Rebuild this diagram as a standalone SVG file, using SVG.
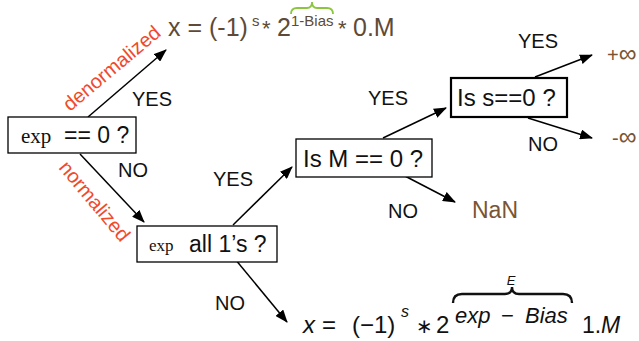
<svg xmlns="http://www.w3.org/2000/svg" width="639" height="341" viewBox="0 0 639 341">
<defs>
<marker id="ah" viewBox="0 0 13 10" refX="12" refY="5" markerWidth="13" markerHeight="10" markerUnits="userSpaceOnUse" orient="auto">
<path d="M0,0 L13,5 L0,10 Z" fill="#000"/>
</marker>
</defs>
<style>
.box{fill:#fff;stroke:#000;stroke-width:1.3}
.thick{stroke-width:2.2}
.sans{font-family:"Liberation Sans",Arial,sans-serif;fill:#111}
.serif{font-family:"Liberation Serif","Times New Roman",serif;fill:#111}
.lbl{font-family:"Liberation Sans",Arial,sans-serif;font-size:20px;fill:#111}
.red{font-family:"Liberation Sans",Arial,sans-serif;font-size:20px;fill:#f04a2a}
.brown{font-family:"Liberation Sans",Arial,sans-serif;fill:#5e4a36}
.res{font-family:"Liberation Sans",Arial,sans-serif;fill:#7a5433}
.math{font-family:"Liberation Sans","DejaVu Sans",sans-serif;fill:#111}
.it{font-style:italic}
.conn line{stroke:#000;stroke-width:1.5;marker-end:url(#ah)}
</style>
<rect width="639" height="341" fill="#fff"/>

<g id="connectors" class="conn">
<line x1="88" y1="117" x2="166" y2="50"/>
<line x1="80" y1="154" x2="144" y2="222"/>
<line x1="233" y1="225" x2="292" y2="167"/>
<line x1="383" y1="138" x2="446" y2="108"/>
<line x1="535" y1="77" x2="592" y2="55"/>
<line x1="528" y1="118" x2="592" y2="138"/>
<line x1="403" y1="175" x2="455" y2="202"/>
<line x1="235" y1="259" x2="287" y2="322"/>
</g>

<g id="edge-labels">
<text class="lbl" x="132" y="106">YES</text>
<text class="lbl" x="118" y="177">NO</text>
<text class="lbl" x="213" y="186">YES</text>
<text class="lbl" x="368" y="105">YES</text>
<text class="lbl" x="518" y="48">YES</text>
<text class="lbl" x="528" y="151">NO</text>
<text class="lbl" x="388" y="218">NO</text>
<text class="lbl" x="215" y="310">NO</text>
<text class="red" transform="translate(70,112) rotate(-40)">denormalized</text>
<text class="red" transform="translate(58,168) rotate(50)">normalized</text>
</g>

<g id="node-exp-zero">
<rect class="box" x="8" y="117" width="128" height="36"/>
<text class="serif" x="21" y="143" font-size="21">exp</text>
<text class="sans" x="64" y="143" font-size="23">== 0 ?</text>
</g>

<g id="node-exp-ones">
<rect class="box" x="137" y="226" width="140" height="36"/>
<text class="serif" x="149" y="251" font-size="17">exp</text>
<text class="sans" x="189" y="252" font-size="23">all 1’s ?</text>
</g>

<g id="node-m-zero">
<rect class="box" x="296" y="139" width="136" height="38"/>
<text class="sans" x="303" y="167" font-size="24">Is M == 0 ?</text>
</g>

<g id="node-s-zero">
<rect class="box thick" x="451" y="78" width="116" height="39"/>
<text class="sans" x="457" y="106" font-size="24">Is s==0 ?</text>
</g>

<g id="result-denorm">
<text class="brown" x="168" y="36" font-size="25">x = (-1)</text>
<text class="brown" x="252" y="26" font-size="15">s</text>
<text class="brown" x="262" y="36" font-size="22">*</text>
<text class="brown" x="277" y="36" font-size="25">2</text>
<text class="brown" x="291" y="26" font-size="15">1-Bias</text>
<text class="brown" x="338" y="36" font-size="22">*</text>
<text class="brown" x="353" y="36" font-size="25">0.M</text>
<path d="M291,14 Q291,8 297,8 L307,8 Q312,8 312,2 Q312,8 317,8 L327,8 Q333,8 333,14" fill="none" stroke="#8cc63f" stroke-width="1.8"/>
</g>

<g id="result-nan">
<text class="res" x="472" y="218" font-size="23">NaN</text>
</g>
<g id="result-pinf">
<text class="res" x="607" y="62" font-size="20">+<tspan font-size="25">∞</tspan></text>
</g>
<g id="result-ninf">
<text class="res" x="612" y="145" font-size="20">-<tspan font-size="25">∞</tspan></text>
</g>

<g id="result-norm">
<text class="math it" x="303" y="333" font-size="24">x</text>
<text class="math" x="322" y="333" font-size="24">=</text>
<text class="math" x="352" y="333" font-size="24">(−1)</text>
<text class="math it" x="401" y="317" font-size="16">s</text>
<text class="math" x="416" y="333" font-size="20">∗</text>
<text class="math" x="436" y="333" font-size="24">2</text>
<text class="math it" x="455" y="323" font-size="22">exp</text>
<text class="math" x="501" y="323" font-size="22">−</text>
<text class="math it" x="525" y="323" font-size="22">Bias</text>
<text class="math" x="582" y="333" font-size="23">1.</text>
<text class="math it" x="601" y="333" font-size="23">M</text>
<path d="M453,303 Q453,294 462,294 L505,294 Q512,294 512,287 Q512,294 519,294 L563,294 Q572,294 572,303" fill="none" stroke="#111" stroke-width="2.4"/>
<text class="math it" x="511" y="285" font-size="13" text-anchor="middle">E</text>
</g>
</svg>
